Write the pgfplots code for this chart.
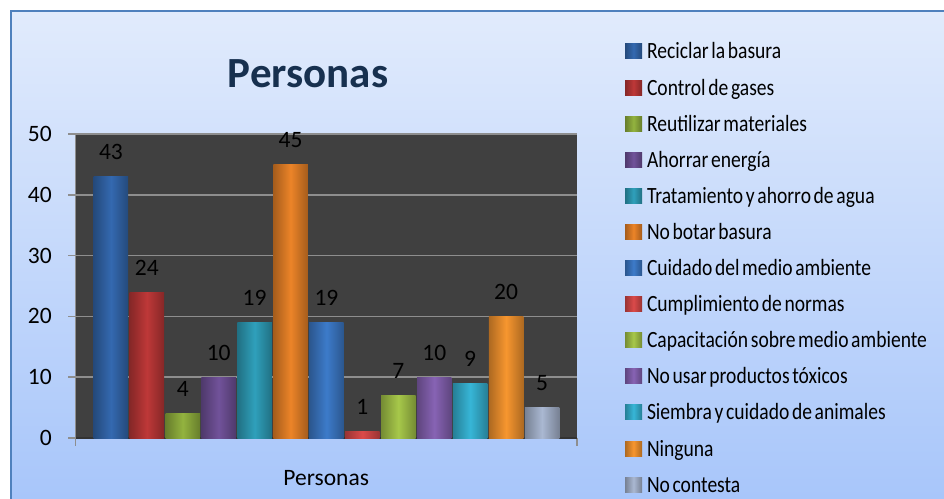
\documentclass[border=0pt]{standalone}
\usepackage{pgfplots}
\pgfplotsset{compat=1.18}
\usepackage{fontspec}
\setmainfont{Carlito}
\newfontfamily\legfont[FakeStretch=0.84,WordSpace=0.6]{Carlito}
\newcommand{\tickfont}{\fontsize{23.5}{24}\selectfont}
\definecolor{bgtop}{HTML}{E1EBFC}
\definecolor{bgbot}{HTML}{A8C6FA}
\definecolor{bordercol}{HTML}{4F81BD}
\definecolor{wallgray}{HTML}{404040}
\definecolor{gridgray}{HTML}{8E8E8E}
\definecolor{titlecol}{HTML}{17304F}
\definecolor{cA}{HTML}{3469B0}
\definecolor{cB}{HTML}{BE3838}
\definecolor{cC}{HTML}{93B33F}
\definecolor{cD}{HTML}{71529A}
\definecolor{cE}{HTML}{2FA0BB}
\definecolor{cF}{HTML}{EC8428}
\definecolor{cG}{HTML}{3D7BCA}
\definecolor{cH}{HTML}{DB4A4A}
\definecolor{cI}{HTML}{A7C84A}
\definecolor{cJ}{HTML}{8763B4}
\definecolor{cK}{HTML}{37B6D7}
\definecolor{cL}{HTML}{F7962F}
\definecolor{cM}{HTML}{AAB8D2}
\pgfplotsset{
  barsh/.style={left color=#1!70!black, right color=#1!70!black, middle color=#1, draw=none}
}
\begin{document}
\begin{tikzpicture}[x=1pt,y=1pt]
\useasboundingbox (0,0) rectangle (944,498);
\fill[white] (0,0) rectangle (944,498);
\shade[top color=bgtop, bottom color=bgbot] (11,0) rectangle (944,487);
\draw[bordercol, line width=2.5pt] (11,-2) -- (11,487) -- (946,487);
\node[font=\fontsize{43}{43}\selectfont\bfseries, text=titlecol, anchor=base] at (308,410) {Personas};
\begin{axis}[
  at={(75.5pt,60pt)}, anchor=south west,
  scale only axis, width=501.5pt, height=304pt,
  xmin=0.013, xmax=13.974, ymin=0, ymax=50,
  ybar, bar width=0.96, bar shift=0pt,
  axis x line*=bottom, axis y line*=left,
  axis background/.style={fill=wallgray},
  x axis line style={draw=black!80, line width=1.5pt},
  y axis line style={draw=gridgray, line width=1.8pt},
  tick align=outside,
  major tick length=7.5pt,
  tick style={draw=gridgray, line width=1.5pt},
  xtick={0.013,13.974}, xticklabels={},
  ytick={0,10,20,30,40,50},
  ymajorgrids, grid style={draw=gridgray, line width=1.6pt},
  /pgf/number format/assume math mode=true,
  yticklabel style={font=\tickfont, anchor=east, inner sep=0pt, xshift=-16pt},
  xlabel={Personas},
  xlabel style={at={(axis description cs:0.5,-0.1546)}, anchor=base, inner sep=0pt, font=\tickfont},
  nodes near coords,
  every node near coord/.append style={font=\tickfont, text=black, anchor=base, inner sep=0pt, yshift=17pt},
  legend image code/.code={\fill[#1] (0pt,0pt) rectangle (17pt,15pt);},
  legend cell align=left,
  legend style={at={(axis description cs:1.0957,1.2961)}, anchor=north west,
    draw=none, fill=none, inner sep=0pt, outer sep=0pt, row sep=16.1pt,
    font=\legfont\fontsize{23.3}{24}\selectfont,
    nodes={inner sep=0pt, outer sep=0pt, text height=15pt, text depth=5pt, anchor=base west},
    /tikz/every odd column/.append style={column sep=5pt}},
]
\addplot[barsh=cA] coordinates {(1,43)};
\addlegendentry{Reciclar la basura}
\addplot[barsh=cB] coordinates {(2,24)};
\addlegendentry{Control de gases}
\addplot[barsh=cC] coordinates {(3,4)};
\addlegendentry{Reutilizar materiales}
\addplot[barsh=cD] coordinates {(4,10)};
\addlegendentry{Ahorrar energía}
\addplot[barsh=cE] coordinates {(5,19)};
\addlegendentry{Tratamiento y ahorro de agua}
\addplot[barsh=cF] coordinates {(6,45)};
\addlegendentry{No botar basura}
\addplot[barsh=cG] coordinates {(7,19)};
\addlegendentry{Cuidado del medio ambiente}
\addplot[barsh=cH] coordinates {(8,1)};
\addlegendentry{Cumplimiento de normas}
\addplot[barsh=cI] coordinates {(9,7)};
\addlegendentry{Capacitación sobre medio ambiente}
\addplot[barsh=cJ] coordinates {(10,10)};
\addlegendentry{No usar productos tóxicos}
\addplot[barsh=cK] coordinates {(11,9)};
\addlegendentry{Siembra y cuidado de animales}
\addplot[barsh=cL] coordinates {(12,20)};
\addlegendentry{Ninguna}
\addplot[barsh=cM] coordinates {(13,5)};
\addlegendentry{No contesta}
\end{axis}
\end{tikzpicture}
\end{document}
